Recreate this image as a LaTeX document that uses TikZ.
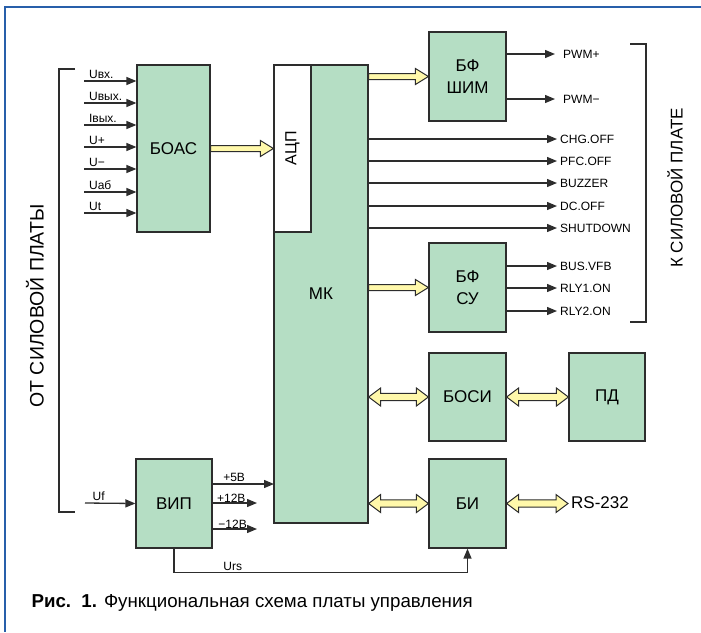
\documentclass[tikz,border=0pt]{standalone}
\usepackage{fontspec}
\setmainfont{Liberation Sans}
\usepackage{tikz}
\usetikzlibrary{arrows.meta,calc}
\definecolor{boxgreen}{RGB}{181,222,196}
\definecolor{busyellow}{RGB}{255,248,170}
\definecolor{frameblue}{RGB}{40,95,170}
\definecolor{linegray}{RGB}{45,45,45}
\tikzset{
  blk/.style={draw=linegray, line width=1.2pt, fill=boxgreen, minimum width=77pt, minimum height=89pt,
    inner sep=0pt, align=center, font=\fontsize{17}{22}\selectfont},
  sarr/.style={draw=linegray, line width=1.3pt, -{Triangle[length=10pt,width=8pt]}},
  lbl/.style={font=\fontsize{12}{14}\selectfont, inner sep=1.5pt},
  sig/.style={font=\fontsize{12}{14}\selectfont, anchor=west, inner xsep=3pt},
  bus/.style={draw=linegray, line width=1pt, fill=busyellow, line join=miter},
  brk/.style={draw=linegray, line width=1.2pt}
}
\newcommand{\fatarrow}[2]{\path[bus] let \p1=#1, \p2=#2 in
  (\x1,\y1+3pt) -- (\x2-13pt,\y1+3pt) -- (\x2-13pt,\y1+8pt) -- (\x2,\y1)
  -- (\x2-13pt,\y1-8pt) -- (\x2-13pt,\y1-3pt) -- (\x1,\y1-3pt) -- cycle;}
\newcommand{\dblarrow}[2]{\path[bus] let \p1=#1, \p2=#2 in
  (\x1,\y1) -- (\x1+12pt,\y1+9pt) -- (\x1+12pt,\y1+3.7pt) -- (\x2-12pt,\y1+3.7pt)
  -- (\x2-12pt,\y1+9pt) -- (\x2,\y1) -- (\x2-12pt,\y1-9pt) -- (\x2-12pt,\y1-3.7pt)
  -- (\x1+12pt,\y1-3.7pt) -- (\x1+12pt,\y1-9pt) -- cycle;}

\begin{document}
\begin{tikzpicture}[x=1pt,y=-1pt]
\useasboundingbox (0,0) rectangle (701,632);
\draw[frameblue, line width=1.5pt] (701,7) -- (5,7) -- (5,632);
% blocks
\node[blk, minimum width=73pt, minimum height=167pt] (boas) at (173.5,148.5) {БОАС};
\node[blk, minimum width=94pt, minimum height=458pt] (mk) at (321,294) {МК};
\node[blk, fill=white, minimum width=37pt, minimum height=167pt] (adc) at (292.5,148.5) {};
\node[font=\fontsize{16}{18}\selectfont, rotate=90] (adctxt) at (adc) {АЦП};
\node[blk] (bfshim) at (467.5,76.5) {БФ\\ШИМ};
\node[blk] (bfsu) at (467.5,287.5) {БФ\\СУ};
\node[blk, minimum height=88pt] (bosi) at (467.5,397) {БОСИ};
\node[blk, minimum width=76pt, minimum height=88pt] (pd) at (607,397) {ПД};
\node[blk] (bi) at (467.5,503.5) {БИ};
\node[blk, minimum width=76pt] (vip) at (174,503.5) {ВИП};
% side texts
\node[font=\fontsize{19.5}{22}\selectfont, rotate=90] (frompwr) at (35,306) {ОТ СИЛОВОЙ ПЛАТЫ};
\node[font=\fontsize{17}{20}\selectfont, rotate=90] (topwr) at (675,188) {К СИЛОВОЙ ПЛАТЕ};
\draw[brk] (75,69) -- (59,69) -- (59,512) -- (75,512);
\draw[brk] (630,44) -- (646,44) -- (646,322) -- (630,322);
% inputs
\foreach \yy/\txt [count=\i] in {81/Uвх., 103/Uвых., 125/Iвых., 147/U+, 169/U−, 192/Uаб, 213/Ut}{
  \coordinate (in\i) at (84,\yy);
  \draw[sarr] (in\i) -- (in\i -| boas.west) node[lbl, pos=0, above right, xshift=3pt] (inl\i) {\txt};
}
\coordinate (ufin) at (85,503);
\draw[sarr] (ufin) -- (vip.west) node[lbl, pos=0.27, above] (ufl) {Uf};
% outputs of MK
\foreach \yy/\txt [count=\i] in {139/CHG.OFF, 161/PFC.OFF, 183/BUZZER, 206/DC.OFF, 228/SHUTDOWN}{
  \node[sig] (s\i) at (557,\yy) {\txt};
  \draw[sarr] (mk.east |- s\i.west) -- (s\i.west);
}
\node[sig, inner xsep=8pt] (pwmp) at (555,54) {PWM+};
\node[sig, inner xsep=8pt] (pwmm) at (555,99) {PWM−};
\draw[sarr] (bfshim.east |- pwmp.west) -- (pwmp.west);
\draw[sarr] (bfshim.east |- pwmm.west) -- (pwmm.west);
\foreach \yy/\txt [count=\i] in {266/BUS.VFB, 288/RLY1.ON, 311/RLY2.ON}{
  \node[sig] (u\i) at (557,\yy) {\txt};
  \draw[sarr] (bfsu.east |- u\i.west) -- (u\i.west);
}
% power
\coordinate (p5) at (274,484);
\coordinate (p12) at (257,503);
\coordinate (m12) at (257,529);
\draw[sarr] (vip.east |- p5) -- (p5) node[lbl, pos=0.35, above] (p5l) {+5В};
\draw[sarr] (vip.east |- p12) -- (p12) node[lbl, pos=0.42, above, inner sep=0.3pt] (p12l) {+12В};
\draw[sarr] (vip.east |- m12) -- (m12) node[lbl, pos=0.45, above, inner sep=0.3pt] (m12l) {−12В};
\draw[sarr] (vip.south) -- ++(0,24) -| (bi.south) node[lbl, pos=0.1, above] (ursl) {Urs};
% buses
\node[font=\fontsize{17}{20}\selectfont, anchor=west, inner xsep=3pt] (rs) at (568,503) {RS-232};
\fatarrow{(boas.east)}{(adc.west)}
\fatarrow{(mk.east |- bfshim.west)}{(bfshim.west)}
\fatarrow{(mk.east |- bfsu.west)}{(bfsu.west)}
\dblarrow{(mk.east |- bosi.west)}{(bosi.west)}
\dblarrow{(bosi.east)}{(pd.west)}
\dblarrow{(mk.east |- bi.west)}{(bi.west)}
\dblarrow{(bi.east)}{(rs.west)}
% caption
\node[anchor=west, font=\fontsize{18.7}{21}\selectfont] (cap) at (28,603) {\textbf{Рис.~~1.} Функциональная схема платы управления};
\end{tikzpicture}
\end{document}
